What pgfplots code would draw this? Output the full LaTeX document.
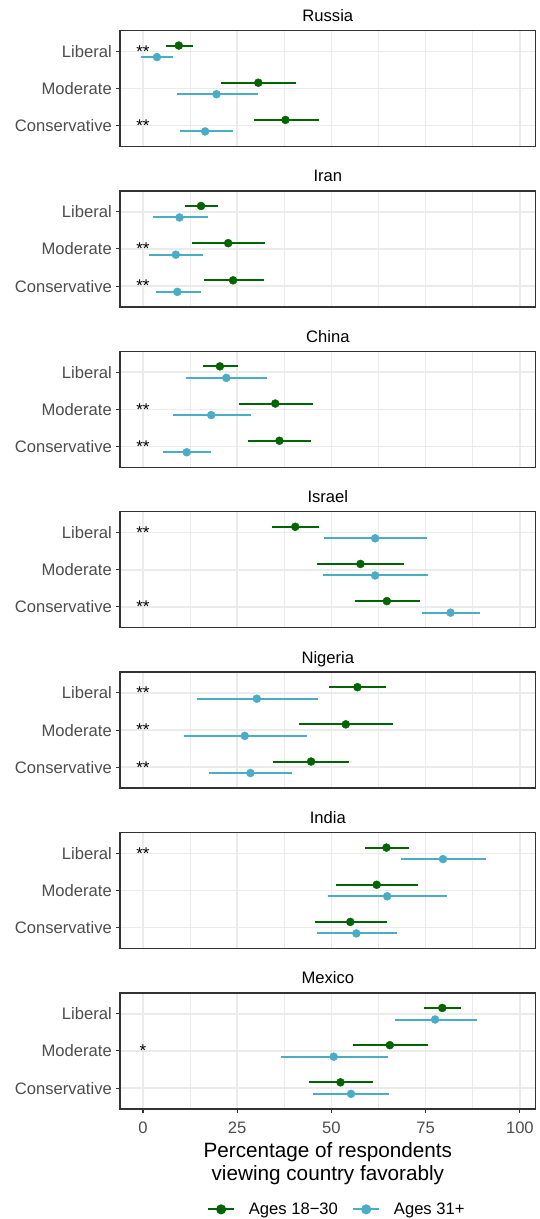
\documentclass[border=0pt]{standalone}
\usepackage{fontspec}
\setmainfont{Liberation Sans}
\usepackage{pgfplots}
\usepackage{pgfplotstable}
\pgfplotsset{compat=1.18}
\definecolor{grn}{HTML}{006400}
\definecolor{blu}{HTML}{4BACC6}
\definecolor{gridc}{HTML}{EBEBEB}
\definecolor{bord}{HTML}{333333}
\definecolor{axtxt}{HTML}{4D4D4D}

% c = category (1 Liberal, 2 Moderate, 3 Conservative); g = Ages 18-30, b = Ages 31+
\pgfplotstableread{
c g glo ghi b blo bhi
1 9.5 6.1 13.4 3.7 -0.5 8.0
2 30.6 20.7 40.6 19.5 8.9 30.4
3 37.8 29.5 46.6 16.5 9.7 23.8
}\russia
\pgfplotstableread{
c g glo ghi b blo bhi
1 15.4 11.2 19.8 9.7 2.6 17.3
2 22.6 13.1 32.5 8.7 1.6 16.0
3 23.9 16.1 32.1 9.1 3.5 15.3
}\iran
\pgfplotstableread{
c g glo ghi b blo bhi
1 20.4 15.9 25.1 22.1 11.5 32.8
2 35.1 25.5 45.0 18.1 7.9 28.6
3 36.2 27.8 44.7 11.6 5.3 18.1
}\china
\pgfplotstableread{
c g glo ghi b blo bhi
1 40.4 34.3 46.8 61.6 48.0 75.3
2 57.7 46.1 69.2 61.6 47.8 75.6
3 64.7 56.3 73.4 81.6 74.1 89.3
}\israel
\pgfplotstableread{
c g glo ghi b blo bhi
1 56.9 49.3 64.6 30.2 14.2 46.4
2 53.8 41.4 66.4 27.0 11.0 43.4
3 44.6 34.6 54.6 28.5 17.6 39.5
}\nigeria
\pgfplotstableread{
c g glo ghi b blo bhi
1 64.6 58.8 70.7 79.6 68.4 90.9
2 62.0 51.2 73.0 64.8 49.1 80.7
3 55.0 45.7 64.7 56.6 46.1 67.4
}\india
\pgfplotstableread{
c g glo ghi b blo bhi
1 79.4 74.5 84.5 77.5 66.8 88.5
2 65.5 55.7 75.7 50.6 36.5 65.1
3 52.4 44.0 61.0 55.2 45.2 65.3
}\mexico

\pgfplotstableread{
x y lab
0 1 **
0 3 **
}\srussia
\pgfplotstableread{
x y lab
0 2 **
0 3 **
}\siran
\pgfplotstableread{
x y lab
0 2 **
0 3 **
}\schina
\pgfplotstableread{
x y lab
0 1 **
0 3 **
}\sisrael
\pgfplotstableread{
x y lab
0 1 **
0 2 **
0 3 **
}\snigeria
\pgfplotstableread{
x y lab
0 1 **
}\sindia
\pgfplotstableread{
x y lab
0 2 *
}\smexico

\pgfplotsset{
 panel/.style={
  scale only axis, width=415.7bp, height=116bp,
  xmin=-6.1, xmax=104.2, ymin=0.44, ymax=3.56, y dir=reverse,
  xtick={0,25,50,75,100}, minor xtick={12.5,37.5,62.5,87.5},
  ytick={1,2,3}, yticklabels={Liberal,Moderate,Conservative},
  xmajorgrids, xminorgrids, ymajorgrids,
  major grid style={draw=gridc, line width=1.6bp},
  minor grid style={draw=gridc, line width=0.8bp},
  axis line style={draw=bord, line width=1.3bp},
  tick pos=left,
  tick align=outside, major tick length=4bp, minor tick length=0pt,
  every tick/.style={draw=bord, line width=1.1bp},
  /pgf/number format/assume math mode=true,
  tick label style={font=\fontsize{16.6bp}{19bp}\selectfont, text=axtxt},
  yticklabel style={inner sep=0pt, xshift=-4bp},
  title style={at={(0.5,1)}, anchor=base, yshift=3bp, inner sep=0pt, font=\fontsize{16.6bp}{19bp}\selectfont},
  clip=false,
 },
 inner/.style={xticklabels={}, xtick style={draw=none}},
}

\newcommand{\panelplots}[2]{%
  \addplot[forget plot, only marks, mark=*, mark size=4bp, color=grn,
    error bars/.cd, x dir=both, x explicit, error mark=none,
    error bar style={line width=2bp, grn}]
    table[x=g, y expr=\thisrow{c}-0.155,
      x error plus expr=\thisrow{ghi}-\thisrow{g},
      x error minus expr=\thisrow{g}-\thisrow{glo}] {#1};
  \addplot[forget plot, only marks, mark=*, mark size=4bp, color=blu,
    error bars/.cd, x dir=both, x explicit, error mark=none,
    error bar style={line width=2bp, blu}]
    table[x=b, y expr=\thisrow{c}+0.155,
      x error plus expr=\thisrow{bhi}-\thisrow{b},
      x error minus expr=\thisrow{b}-\thisrow{blo}] {#1};
  \addplot[forget plot, only marks, mark=none, nodes near coords, point meta=explicit symbolic,
    nodes near coords style={anchor=center, inner sep=0pt, text=black, font=\fontsize{17bp}{19bp}\selectfont}]
    table[x=x, y=y, meta=lab] {#2};
}

\begin{document}
\begin{tikzpicture}
\path[use as bounding box] (0,0) rectangle (540bp,-1219bp);

\begin{axis}[panel, inner, at={(120bp,-30.5bp)}, anchor=north west, title={Russia}]
\panelplots{\russia}{\srussia}
\end{axis}

\begin{axis}[panel, inner, at={(120bp,-190.9bp)}, anchor=north west, title={Iran}]
\panelplots{\iran}{\siran}
\end{axis}

\begin{axis}[panel, inner, at={(120bp,-351.3bp)}, anchor=north west, title={China}]
\panelplots{\china}{\schina}
\end{axis}

\begin{axis}[panel, inner, at={(120bp,-511.7bp)}, anchor=north west, title={Israel}]
\panelplots{\israel}{\sisrael}
\end{axis}

\begin{axis}[panel, inner, at={(120bp,-672.1bp)}, anchor=north west, title={Nigeria}]
\panelplots{\nigeria}{\snigeria}
\end{axis}

\begin{axis}[panel, inner, at={(120bp,-832.5bp)}, anchor=north west, title={India}]
\panelplots{\india}{\sindia}
\end{axis}

\begin{axis}[panel, at={(120bp,-992.9bp)}, anchor=north west, title={Mexico},
  xticklabel style={anchor=north, inner sep=0pt, yshift=-8.6bp},
  xlabel={Percentage of respondents\\viewing country favorably},
  xlabel style={at={(axis description cs:0.5,-0.47)}, anchor=center, align=center, inner sep=0pt,
    font=\fontsize{20.7bp}{23.4bp}\selectfont},
  legend columns=2,
  legend style={at={(axis description cs:0.2102,-0.866)}, anchor=west, draw=none, fill=none,
    inner sep=0pt, outer sep=0pt, nodes={inner sep=0pt},
    font=\fontsize{16.6bp}{19bp}\selectfont,
    /tikz/every odd column/.style={column sep=14bp},
    /tikz/every even column/.style={column sep=14.5bp}},
  legend image code/.code={\draw[mark repeat=2, mark phase=2, #1] plot coordinates {(0bp,0bp) (12.75bp,0bp) (25.5bp,0bp)};},
]
\panelplots{\mexico}{\smexico}
\addlegendimage{grn, line width=2bp, mark=*, mark size=4bp, mark options={solid}}
\addlegendentry{Ages 18−30}
\addlegendimage{blu, line width=2bp, mark=*, mark size=4bp, mark options={solid}}
\addlegendentry{Ages 31+}
\end{axis}
\end{tikzpicture}
\end{document}
